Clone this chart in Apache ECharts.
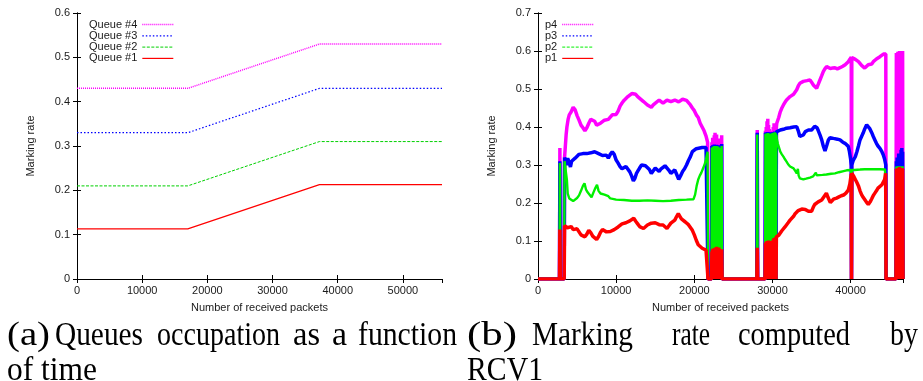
<!DOCTYPE html>
<html>
<head>
<meta charset="utf-8">
<script src="https://cdn.jsdelivr.net/npm/echarts@6/dist/echarts.min.js"></script>
<style>
  html, body { margin: 0; padding: 0; background: #fff; }
  #chart { width: 923px; height: 381px; }
</style>
</head>
<body>
<div id="chart"></div>
<script>
// ---- (a) configured marking rate per queue, [packets, rate] ----
const queue4 = [[0, 0.43], [17000, 0.43], [37200, 0.53], [56000, 0.53]];
const queue3 = [[0, 0.33], [17000, 0.33], [37200, 0.43], [56000, 0.43]];
const queue2 = [[0, 0.21], [17000, 0.21], [37200, 0.31], [56000, 0.31]];
const queue1 = [[0, 0.113], [17000, 0.113], [37200, 0.213], [56000, 0.213]];

// ---- (b) marking rate computed by RCV1, [packets, rate] ----
const p4 = [
  [0, 0], [2750, 0], [2800, 0.345], [2850, 0], [3350, 0],
  [3400, 0.32], [3500, 0.35], [3600, 0.38], [3700, 0.40], [3850, 0.42], [4000, 0.432], [4250, 0.44], [4500, 0.452],
  [4750, 0.445], [5000, 0.43], [5250, 0.418], [5500, 0.405], [5750, 0.398], [6000, 0.39], [6250, 0.398], [6500, 0.41],
  [6750, 0.42], [7000, 0.425], [7250, 0.415], [7500, 0.405], [7750, 0.405], [8000, 0.41], [8500, 0.418], [9000, 0.42],
  [9250, 0.425], [9500, 0.432], [9750, 0.428], [10000, 0.433], [10250, 0.442], [10500, 0.455], [10750, 0.463],
  [11000, 0.47], [11500, 0.48], [12000, 0.488], [12250, 0.49], [12500, 0.486], [12750, 0.48], [13000, 0.476],
  [13500, 0.467], [14000, 0.458], [14500, 0.452], [14750, 0.458], [15000, 0.463], [15500, 0.471], [15750, 0.466],
  [16000, 0.463], [16500, 0.471], [17000, 0.467], [17500, 0.471], [18000, 0.466], [18500, 0.473], [19000, 0.47],
  [19250, 0.465], [19500, 0.458], [19750, 0.45], [20000, 0.443], [20250, 0.432], [20500, 0.425], [20750, 0.41],
  [21000, 0.4], [21250, 0.39], [21500, 0.376], [21700, 0.36],
  [21750, 0], [22200, 0],
  [22250, 0.36], [22300, 0], [22350, 0.372], [22400, 0], [22450, 0.365], [22500, 0], [22550, 0.378], [22600, 0],
  [22650, 0.385], [22700, 0], [22750, 0.372], [22800, 0], [22850, 0.38], [22900, 0], [22950, 0.368], [23000, 0],
  [23050, 0.362], [23100, 0], [23150, 0.37], [23200, 0], [23250, 0.358],
  [23300, 0], [23450, 0], [23500, 0.378], [23550, 0], [28000, 0], [28050, 0.392], [28100, 0], [29050, 0],
  [29100, 0.39], [29150, 0], [29200, 0.4], [29250, 0], [29300, 0.415], [29350, 0], [29400, 0.422], [29450, 0],
  [29500, 0.405], [29550, 0], [29600, 0.395], [29650, 0], [29700, 0.388], [29750, 0], [29950, 0],
  [30000, 0.39], [30050, 0], [30100, 0.4], [30150, 0], [30200, 0.41], [30250, 0], [30300, 0.402], [30350, 0],
  [30400, 0.395], [30450, 0], [30500, 0.4],
  [30550, 0.41], [30800, 0.425], [31000, 0.44], [31200, 0.45], [31400, 0.458], [31600, 0.465], [31800, 0.471],
  [32000, 0.476], [32250, 0.48], [32500, 0.483], [32700, 0.486], [32900, 0.492], [33100, 0.498], [33300, 0.508],
  [33500, 0.515], [33750, 0.52], [33950, 0.52], [34200, 0.517], [34400, 0.522], [34600, 0.525], [34800, 0.524],
  [35000, 0.518], [35250, 0.51], [35450, 0.505], [35650, 0.502], [35850, 0.512], [36100, 0.525], [36300, 0.535],
  [36500, 0.546], [36700, 0.553], [36930, 0.559], [37150, 0.556], [37400, 0.554], [37700, 0.555], [38000, 0.556],
  [38300, 0.553], [38640, 0.556], [39000, 0.56], [39300, 0.564], [39500, 0.568], [39700, 0.572], [39900, 0.578],
  [40080, 0.584], [40110, 0], [40150, 0.583], [40350, 0.58], [40600, 0.578], [40800, 0.576], [41000, 0.572],
  [41200, 0.567], [41400, 0.562], [41600, 0.558], [41800, 0.555], [42000, 0.559], [42250, 0.564], [42500, 0.563],
  [42700, 0.566], [42900, 0.572], [43100, 0.577], [43300, 0.579], [43500, 0.581], [43750, 0.585], [44000, 0.59],
  [44200, 0.592], [44400, 0.594], [44500, 0.592], [44530, 0], [45800, 0],
  [45850, 0.595], [45900, 0], [45950, 0.59], [46000, 0], [46050, 0.598], [46100, 0], [46150, 0.592], [46200, 0],
  [46250, 0.6], [46300, 0], [46350, 0.595], [46400, 0], [46450, 0.59], [46500, 0], [46550, 0.598], [46600, 0],
  [46650, 0.6], [46700, 0]
];
const p3 = [
  [0, 0], [2750, 0], [2800, 0.31], [2850, 0], [3350, 0],
  [3400, 0.32], [3500, 0.315], [3650, 0.30], [3800, 0.318], [4000, 0.305], [4150, 0.295], [4300, 0.31], [4500, 0.305],
  [4750, 0.318], [5000, 0.322], [5250, 0.328], [5500, 0.332], [5750, 0.33], [6000, 0.331], [6250, 0.33], [6500, 0.328],
  [6750, 0.332], [7000, 0.331], [7250, 0.335], [7500, 0.333], [7750, 0.33], [8000, 0.333], [8250, 0.325], [8500, 0.33],
  [8750, 0.326], [9000, 0.318], [9250, 0.328], [9500, 0.335], [9750, 0.328], [10000, 0.313], [10250, 0.305],
  [10500, 0.296], [10750, 0.29], [11000, 0.287], [11250, 0.296], [11500, 0.292], [11750, 0.282], [12000, 0.27],
  [12200, 0.258], [12400, 0.265], [12600, 0.278], [12800, 0.285], [13000, 0.292], [13250, 0.3], [13500, 0.305],
  [13750, 0.298], [14000, 0.295], [14250, 0.288], [14500, 0.278], [14750, 0.285], [15000, 0.292], [15250, 0.287],
  [15500, 0.283], [15750, 0.29], [16000, 0.293], [16250, 0.298], [16500, 0.296], [16750, 0.286], [17000, 0.278],
  [17250, 0.283], [17500, 0.287], [17750, 0.275], [18000, 0.262], [18250, 0.272], [18500, 0.283], [18750, 0.29],
  [19000, 0.3], [19250, 0.312], [19500, 0.322], [19750, 0.335], [20000, 0.34], [20250, 0.343], [20500, 0.344],
  [21000, 0.346], [21500, 0.346], [21700, 0.346],
  [21750, 0], [22200, 0],
  [22250, 0.35], [22300, 0], [22350, 0.352], [22400, 0], [22450, 0.35], [22500, 0], [22550, 0.354], [22600, 0],
  [22650, 0.352], [22700, 0], [22750, 0.35], [22800, 0], [22850, 0.353], [22900, 0], [22950, 0.35], [23000, 0],
  [23050, 0.352], [23100, 0], [23150, 0.35], [23200, 0], [23250, 0.348],
  [23300, 0], [23450, 0], [23500, 0.355], [23550, 0], [28000, 0], [28050, 0.385], [28100, 0], [29050, 0],
  [29100, 0.385], [29150, 0], [29200, 0.386], [29250, 0], [29300, 0.385], [29350, 0], [29400, 0.387], [29450, 0],
  [29500, 0.385], [29550, 0], [29600, 0.386], [29650, 0], [29700, 0.385], [29750, 0], [29950, 0],
  [30000, 0.386], [30050, 0], [30100, 0.387], [30150, 0], [30200, 0.386], [30250, 0], [30300, 0.388], [30350, 0],
  [30400, 0.386], [30450, 0], [30500, 0.387],
  [30550, 0.386], [31000, 0.392], [31400, 0.394], [31800, 0.397], [32250, 0.398], [32700, 0.4], [33100, 0.401],
  [33300, 0.39], [33500, 0.375], [33750, 0.38], [33950, 0.379], [34200, 0.388], [34400, 0.386], [34600, 0.392],
  [34800, 0.388], [35000, 0.392], [35200, 0.397], [35400, 0.402], [35530, 0.406], [35700, 0.398], [35870, 0.39],
  [36100, 0.378], [36300, 0.366], [36500, 0.35], [36720, 0.337], [36950, 0.352], [37150, 0.366], [37350, 0.372],
  [37570, 0.375], [37800, 0.37], [38000, 0.37], [38300, 0.368], [38640, 0.366], [39000, 0.36], [39280, 0.357],
  [39500, 0.352], [39700, 0.349], [39850, 0.335], [40000, 0.315], [40080, 0.298], [40110, 0], [40150, 0.3],
  [40350, 0.313], [40600, 0.322], [40800, 0.335], [41000, 0.35], [41200, 0.366], [41400, 0.375], [41600, 0.384],
  [41800, 0.395], [42050, 0.406], [42250, 0.41], [42470, 0.395], [42700, 0.385], [42900, 0.375], [43100, 0.366],
  [43300, 0.357], [43500, 0.35], [43750, 0.344], [44000, 0.335], [44170, 0.327], [44350, 0.315], [44500, 0.3],
  [44530, 0], [45800, 0],
  [45850, 0.31], [45900, 0], [45950, 0.32], [46000, 0], [46050, 0.305], [46100, 0], [46150, 0.33], [46200, 0],
  [46250, 0.3], [46300, 0], [46350, 0.315], [46400, 0], [46450, 0.34], [46500, 0], [46550, 0.345], [46600, 0],
  [46650, 0.335], [46700, 0]
];
const p2 = [
  [0, 0], [2750, 0], [2800, 0.305], [2850, 0], [3350, 0],
  [3400, 0.31], [3550, 0.305], [3700, 0.26], [3800, 0.225], [4000, 0.212], [4250, 0.207], [4500, 0.205],
  [4750, 0.208], [5000, 0.213], [5250, 0.22], [5500, 0.232], [5750, 0.245], [5950, 0.252], [6150, 0.235],
  [6350, 0.228], [6600, 0.225], [6850, 0.215], [7100, 0.228], [7350, 0.24], [7550, 0.248], [7750, 0.232],
  [8000, 0.225], [8250, 0.228], [8500, 0.222], [8750, 0.226], [9000, 0.218], [9250, 0.212], [9500, 0.21],
  [10000, 0.209], [11000, 0.208], [12000, 0.206], [13000, 0.206], [14000, 0.207], [15000, 0.206], [16000, 0.205],
  [17000, 0.206], [18000, 0.208], [19000, 0.209], [19900, 0.21], [20100, 0.222], [20300, 0.245], [20500, 0.262],
  [20700, 0.272], [20900, 0.28], [21100, 0.29], [21300, 0.3], [21500, 0.315], [21700, 0.335],
  [21750, 0], [22200, 0],
  [22250, 0.345], [22300, 0], [22350, 0.348], [22400, 0], [22450, 0.347], [22500, 0], [22550, 0.35], [22600, 0],
  [22650, 0.348], [22700, 0], [22750, 0.346], [22800, 0], [22850, 0.35], [22900, 0], [22950, 0.347], [23000, 0],
  [23050, 0.349], [23100, 0], [23150, 0.346], [23200, 0], [23250, 0.345],
  [23300, 0], [23450, 0], [23500, 0.35], [23550, 0], [28000, 0], [28050, 0.38], [28100, 0], [29050, 0],
  [29100, 0.382], [29150, 0], [29200, 0.383], [29250, 0], [29300, 0.382], [29350, 0], [29400, 0.384], [29450, 0],
  [29500, 0.382], [29550, 0], [29600, 0.383], [29650, 0], [29700, 0.382], [29750, 0], [29950, 0],
  [30000, 0.384], [30050, 0], [30100, 0.385], [30150, 0], [30200, 0.384], [30250, 0], [30300, 0.386], [30350, 0],
  [30400, 0.384], [30450, 0], [30500, 0.38],
  [30550, 0.37], [30700, 0.355], [31000, 0.335], [31200, 0.328], [31400, 0.322], [31600, 0.315], [31800, 0.309],
  [32000, 0.302], [32250, 0.296], [32500, 0.293], [32700, 0.291], [32900, 0.285], [33100, 0.278], [33250, 0.29],
  [33350, 0.272], [33500, 0.265], [33750, 0.263], [33950, 0.262], [34300, 0.264], [34800, 0.267], [35200, 0.27],
  [35440, 0.274], [35550, 0.28], [35650, 0.273], [35870, 0.273], [36400, 0.274], [36900, 0.275], [37500, 0.277],
  [38000, 0.278], [38500, 0.281], [39100, 0.284], [39500, 0.286], [40080, 0.287], [40110, 0], [40150, 0.287],
  [40500, 0.287], [41200, 0.288], [41800, 0.289], [42470, 0.289], [43100, 0.289], [43750, 0.289], [44400, 0.288],
  [44500, 0.287], [44530, 0], [45800, 0],
  [45850, 0.296], [45900, 0], [45950, 0.296], [46000, 0], [46050, 0.297], [46100, 0], [46150, 0.296], [46200, 0],
  [46250, 0.296], [46300, 0], [46350, 0.297], [46400, 0], [46450, 0.296], [46500, 0], [46550, 0.296], [46600, 0],
  [46650, 0.297], [46700, 0]
];
const p1 = [
  [0, 0], [2750, 0], [2800, 0.13], [2850, 0], [3350, 0],
  [3400, 0.14], [3500, 0.138], [3750, 0.135], [4000, 0.135], [4250, 0.138], [4500, 0.13], [4750, 0.133],
  [5000, 0.132], [5250, 0.124], [5500, 0.116], [5750, 0.112], [6000, 0.111], [6250, 0.118], [6500, 0.128],
  [6750, 0.122], [7000, 0.113], [7250, 0.108], [7500, 0.104], [7750, 0.112], [8000, 0.123], [8250, 0.13],
  [8500, 0.128], [8750, 0.124], [9000, 0.12], [9250, 0.125], [9500, 0.129], [9750, 0.13], [10000, 0.133],
  [10250, 0.137], [10500, 0.142], [10750, 0.145], [11000, 0.147], [11250, 0.148], [11500, 0.151], [11750, 0.153],
  [12000, 0.157], [12250, 0.16], [12500, 0.152], [12750, 0.145], [13000, 0.138], [13250, 0.135], [13500, 0.133],
  [13750, 0.138], [14000, 0.142], [14250, 0.146], [14500, 0.147], [14750, 0.145], [15000, 0.148], [15250, 0.146],
  [15500, 0.143], [15750, 0.14], [16000, 0.142], [16250, 0.138], [16500, 0.133], [16750, 0.14], [17000, 0.147],
  [17250, 0.152], [17500, 0.155], [17750, 0.165], [17950, 0.172], [18150, 0.165], [18350, 0.158], [18600, 0.155],
  [18850, 0.15], [19000, 0.147], [19250, 0.143], [19500, 0.138], [19750, 0.128], [20000, 0.116], [20250, 0.102],
  [20500, 0.09], [20750, 0.085], [21000, 0.081], [21250, 0.079], [21500, 0.076], [21700, 0.075],
  [21750, 0], [22200, 0],
  [22250, 0.072], [22300, 0], [22350, 0.078], [22400, 0], [22450, 0.08], [22500, 0], [22550, 0.075], [22600, 0],
  [22650, 0.082], [22700, 0], [22750, 0.078], [22800, 0], [22850, 0.085], [22900, 0], [22950, 0.08], [23000, 0],
  [23050, 0.076], [23100, 0], [23150, 0.083], [23200, 0], [23250, 0.079],
  [23300, 0], [23450, 0], [23500, 0.078], [23550, 0], [28000, 0], [28050, 0.082], [28100, 0], [29050, 0],
  [29100, 0.094], [29150, 0], [29200, 0.097], [29250, 0], [29300, 0.1], [29350, 0], [29400, 0.098], [29450, 0],
  [29500, 0.101], [29550, 0], [29600, 0.099], [29650, 0], [29700, 0.1], [29750, 0], [29950, 0],
  [30000, 0.1], [30050, 0], [30100, 0.104], [30150, 0], [30200, 0.108], [30250, 0], [30300, 0.106], [30350, 0],
  [30400, 0.11], [30450, 0], [30500, 0.111],
  [30550, 0.11], [30800, 0.115], [31000, 0.12], [31200, 0.127], [31400, 0.132], [31600, 0.137], [31800, 0.142],
  [32000, 0.148], [32250, 0.155], [32500, 0.16], [32700, 0.165], [32900, 0.172], [33100, 0.176], [33300, 0.18],
  [33500, 0.183], [33750, 0.184], [33950, 0.182], [34200, 0.183], [34400, 0.181], [34600, 0.178], [34800, 0.176],
  [35000, 0.178], [35200, 0.188], [35400, 0.196], [35650, 0.2], [35850, 0.203], [36100, 0.206], [36300, 0.208],
  [36500, 0.212], [36700, 0.22], [36900, 0.226], [37100, 0.215], [37400, 0.201], [37600, 0.205], [37800, 0.21],
  [38000, 0.212], [38200, 0.213], [38500, 0.216], [38800, 0.219], [39100, 0.221], [39400, 0.226], [39700, 0.234],
  [39900, 0.25], [40080, 0.276], [40110, 0], [40150, 0.278], [40350, 0.272], [40600, 0.262], [40800, 0.254],
  [41000, 0.245], [41200, 0.232], [41400, 0.222], [41600, 0.215], [41800, 0.21], [42000, 0.203], [42260, 0.196],
  [42500, 0.203], [42700, 0.211], [42900, 0.22], [43100, 0.226], [43300, 0.232], [43500, 0.239], [43750, 0.244],
  [44000, 0.248], [44200, 0.253], [44350, 0.262], [44480, 0.278], [44530, 0], [45800, 0],
  [45850, 0.29], [45900, 0], [45950, 0.285], [46000, 0], [46050, 0.292], [46100, 0], [46150, 0.288], [46200, 0],
  [46250, 0.295], [46300, 0], [46350, 0.29], [46400, 0], [46450, 0.287], [46500, 0], [46550, 0.292], [46600, 0],
  [46650, 0.29], [46700, 0]
];

// ---- axis ranges ----
const xMaxA = 56000, yMaxA = 0.6;
const xMaxB = 46700, yMaxB = 0.7;

const MAGENTA = '#ff00ff', BLUE = '#0000ff', GREEN_A = '#00d000', GREEN_B = '#00f000', RED = '#ff0000';
const SANS = '"Liberation Sans", Arial, sans-serif';
const INK = '#1a1a1a';

function xAxes(gridIndex, max) {
  const common = {
    type: 'value', gridIndex, min: 0, max, interval: 10000,
    axisLine: { show: true, lineStyle: { color: '#000', width: 1 } },
    axisTick: { show: true, inside: true, length: 4, lineStyle: { color: '#000' } },
    splitLine: { show: false }
  };
  return [
    Object.assign({}, common, {
      position: 'bottom',
      axisLabel: { color: INK, fontFamily: SANS, fontSize: 11, margin: 6, showMaxLabel: false,
                   formatter: v => String(v) },
      name: 'Number of received packets', nameLocation: 'middle', nameGap: 23,
      nameTextStyle: { color: INK, fontFamily: SANS, fontSize: 11 }
    }),
    Object.assign({}, common, { position: 'top', axisLabel: { show: false } })
  ];
}
function yAxes(gridIndex, max) {
  const common = {
    type: 'value', gridIndex, min: 0, max, interval: 0.1,
    axisLine: { show: true, lineStyle: { color: '#000', width: 1 } },
    axisTick: { show: true, inside: true, length: 4, lineStyle: { color: '#000' } },
    splitLine: { show: false }
  };
  return [
    Object.assign({}, common, {
      position: 'left',
      axisLabel: { color: INK, fontFamily: SANS, fontSize: 11, margin: 7 },
      name: 'Marking rate', nameLocation: 'middle', nameGap: 41, nameRotate: 90,
      nameTextStyle: { color: INK, fontFamily: SANS, fontSize: 11 }
    }),
    Object.assign({}, common, { position: 'right', axisLabel: { show: false } })
  ];
}

function lineSeries(name, data, axisIdx, color, width, type) {
  return {
    name, type: 'line', data, xAxisIndex: axisIdx, yAxisIndex: axisIdx,
    symbol: 'none', showSymbol: false, animation: false, clip: true,
    lineStyle: { color, width, type, cap: 'butt' }, itemStyle: { color }
  };
}

// caption words, stretched horizontally to their column positions
const CAPTION_FONT = '34px "Liberation Serif", "Times New Roman", serif';
const measureCtx = document.createElement('canvas').getContext('2d');
measureCtx.font = CAPTION_FONT;
function captionWord(text, left, right, midY) {
  const w = measureCtx.measureText(text).width;
  return {
    type: 'text', x: left, y: midY, scaleX: (right - left) / w, silent: true,
    style: { text, font: CAPTION_FONT, fill: '#000', align: 'left', verticalAlign: 'middle' }
  };
}
const captionWords = [
  ['(a)', 7, 50, 0], ['Queues', 55, 143, 0], ['occupation', 157, 280, 0], ['as', 293, 320, 0],
  ['a', 332, 347, 0], ['function', 358, 457, 0], ['of time', 7, 97, 1],
  ['(b)', 467, 517, 0], ['Marking', 532, 633, 0], ['rate', 672, 710, 0], ['computed', 738, 850, 0],
  ['by', 890, 918, 0], ['RCV1', 467, 543, 1]
];
const captionLineY = [336, 371];

const legendBase = {
  orient: 'vertical', top: 14, align: 'right',
  itemWidth: 31, itemHeight: 6, itemGap: 0.3,
  itemStyle: { opacity: 0 },
  textStyle: { color: INK, fontFamily: SANS, fontSize: 11, lineHeight: 11 }
};

const chart = echarts.init(document.getElementById('chart'), null, { renderer: 'canvas' });
chart.setOption({
  backgroundColor: '#fff',
  animation: false,
  grid: [
    { left: 77, top: 13, width: 365, height: 266 },
    { left: 538, top: 13, width: 365, height: 266 }
  ],
  xAxis: [...xAxes(0, xMaxA), ...xAxes(1, xMaxB)],
  yAxis: [...yAxes(0, yMaxA), ...yAxes(1, yMaxB)],
  legend: [
    Object.assign({}, legendBase, {
      left: 84,
      data: [
        { name: 'Queue #4', lineStyle: { width: 1.5, type: [1, 1] } },
        { name: 'Queue #3', lineStyle: { width: 1.2, type: [1.5, 2] } },
        { name: 'Queue #2', lineStyle: { width: 1, type: [3, 1.5] } },
        { name: 'Queue #1', lineStyle: { width: 1.2, type: 'solid' } }
      ]
    }),
    Object.assign({}, legendBase, {
      left: 540,
      data: [
        { name: 'p4', lineStyle: { width: 1.5, type: [1, 1] } },
        { name: 'p3', lineStyle: { width: 1.2, type: [1.5, 2] } },
        { name: 'p2', lineStyle: { width: 1, type: [3, 1.5] } },
        { name: 'p1', lineStyle: { width: 1.2, type: 'solid' } }
      ]
    })
  ],
  series: [
    lineSeries('Queue #4', queue4, 0, MAGENTA, 1.5, [1, 1]),
    lineSeries('Queue #3', queue3, 0, BLUE, 1.2, [1.5, 2]),
    lineSeries('Queue #2', queue2, 0, GREEN_A, 1, [3, 1.5]),
    lineSeries('Queue #1', queue1, 0, RED, 1.2, 'solid'),
    lineSeries('p4', p4, 2, MAGENTA, 3.5, 'solid'),
    lineSeries('p3', p3, 2, BLUE, 3.5, 'solid'),
    lineSeries('p2', p2, 2, GREEN_B, 2.4, 'solid'),
    lineSeries('p1', p1, 2, RED, 3.5, 'solid')
  ],
  graphic: captionWords.map(([t, l, r, line]) => captionWord(t, l, r, captionLineY[line]))
});
</script>
</body>
</html>
